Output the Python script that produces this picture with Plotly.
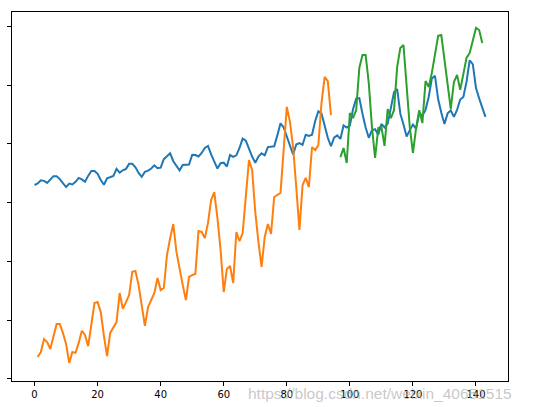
import plotly.graph_objects as go

# standardized series values
actual = [-1.40, -1.35, -1.24, -1.26, -1.33, -1.21, -1.10, -1.10, -1.20, -1.34, -1.47, -1.35,
          -1.38, -1.29, -1.16, -1.21, -1.29, -1.09, -0.92, -0.92, -1.02, -1.23, -1.39, -1.17,
          -1.13, -1.09, -0.85, -0.98, -0.90, -0.85, -0.68, -0.68, -0.80, -0.99, -1.12, -0.95,
          -0.91, -0.84, -0.73, -0.83, -0.81, -0.52, -0.42, -0.32, -0.59, -0.74, -0.90, -0.72,
          -0.70, -0.70, -0.37, -0.38, -0.43, -0.31, -0.14, -0.07, -0.36, -0.58, -0.84, -0.66,
          -0.64, -0.77, -0.38, -0.44, -0.39, -0.14, 0.18, 0.11, -0.18, -0.43, -0.64, -0.43,
          -0.32, -0.39, -0.11, -0.09, -0.08, 0.29, 0.70, 0.56, 0.26, -0.05, -0.36, -0.02,
          0.03, -0.03, 0.31, 0.27, 0.31, 0.78, 1.11, 1.04, 0.62, 0.21, -0.08, 0.21,
          0.29, 0.17, 0.63, 0.56, 0.62, 1.18, 1.54, 1.56, 1.03, 0.56, 0.21, 0.46,
          0.50, 0.31, 0.68, 0.56, 0.69, 1.29, 1.76, 1.87, 1.03, 0.66, 0.25, 0.47,
          0.66, 0.51, 1.05, 0.96, 1.16, 1.60, 2.23, 2.32, 1.52, 1.06, 0.68, 1.04,
          1.14, 0.92, 1.16, 1.51, 1.60, 2.12, 2.85, 2.71, 1.90, 1.55, 1.25, 0.92]

train_start = 1
train_pred = [-7.26, -7.09, -6.65, -6.75, -6.99, -6.61, -6.14, -6.14, -6.44, -6.82,
              -7.46, -7.09, -7.12, -6.78, -6.37, -6.51, -6.89, -6.17, -5.42, -5.39,
              -5.73, -6.54, -7.23, -6.44, -6.27, -6.07, -5.08, -5.62, -5.39, -5.15,
              -4.36, -4.33, -4.81, -5.49, -6.20, -5.56, -5.32, -5.08, -4.57, -4.98,
              -4.91, -3.79, -3.21, -2.73, -3.68, -4.29, -4.81, -5.32, -4.53, -4.47,
              -4.43, -2.97, -3.00, -3.21, -2.70, -1.91, -1.64, -2.52, -3.61, -5.05,
              -4.26, -4.16, -4.74, -3.00, -3.31, -3.04, -1.91, -0.55, -0.89, -2.32,
              -3.34, -4.19, -3.17, -2.73, -3.07, -1.81, -1.74, -1.67, -0.21, 1.26,
              0.75, -0.11, -1.47, -2.93, -1.40, -1.16, -1.47, -0.11, -0.21, -0.04,
              1.39, 2.28, 2.14, 0.98]

test_start = 97
test_pred = [-0.45, -0.14, -0.65, 1.05, 0.88, 1.15, 2.59, 3.03, 3.03, 2.07,
             0.58, -0.48, 0.54, 0.58, -0.07, 1.19, 0.88, 1.15, 2.62, 3.27,
             3.37, 1.84, 0.58, -0.31, 0.54, 1.15, 0.71, 2.14, 1.94, 2.42,
             3.10, 3.68, 3.71, 2.86, 2.07, 1.19, 2.11, 2.35, 1.84, 2.45,
             2.93, 3.10, 3.54, 3.95, 3.88, 3.44]

x_ticks = [0, 20, 40, 60, 80, 100, 120, 140]
y_ticks = [4, 2, 0, -2, -4, -6, -8]
y_tick_text = ["4", "2", "0", "\u22122", "\u22124", "\u22126", "\u22128"]
watermark = "https://blog.csdn.net/weixin_40651515"

fig = go.Figure()
fig.add_trace(go.Scatter(x=list(range(len(actual))), y=actual, mode="lines",
                         line=dict(color="#1f77b4", width=2)))
fig.add_trace(go.Scatter(x=list(range(train_start, train_start + len(train_pred))), y=train_pred,
                         mode="lines", line=dict(color="#ff7f0e", width=2)))
fig.add_trace(go.Scatter(x=list(range(test_start, test_start + len(test_pred))), y=test_pred,
                         mode="lines", line=dict(color="#2ca02c", width=2)))

axis_common = dict(showgrid=False, zeroline=False, showline=True, linecolor="black",
                   linewidth=1, mirror=True, ticks="outside", ticklen=4, tickcolor="black",
                   tickwidth=1, tickfont=dict(family="DejaVu Sans", size=10, color="black"))

fig.update_xaxes(range=[-7.15, 150.15], tickvals=x_ticks, **axis_common)
fig.update_yaxes(range=[-8.078, 4.494], tickvals=y_ticks, ticktext=y_tick_text,
                 ticklabelstandoff=6, automargin=False, **axis_common)

fig.add_annotation(text=watermark, xref="paper", yref="paper", x=1.012, y=-0.006,
                   xanchor="right", yanchor="top", showarrow=False,
                   font=dict(family="Liberation Sans", size=15.5, color="rgba(175,175,175,0.7)"))

fig.update_layout(width=533, height=407, showlegend=False,
                  margin=dict(l=12, r=25, t=12, b=26, autoexpand=False),
                  plot_bgcolor="white", paper_bgcolor="white")

fig.write_html("out.html", config={"displayModeBar": False},
               post_script="document.body.style.margin='0';")
